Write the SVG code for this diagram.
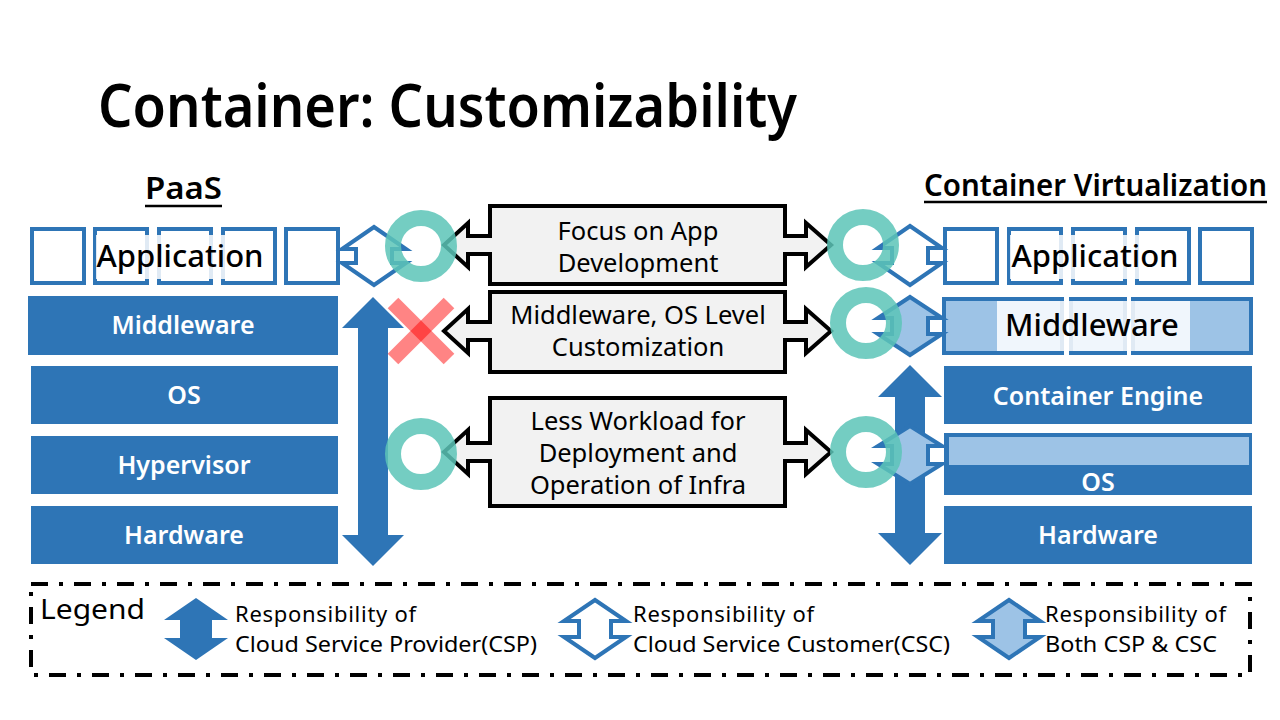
<svg xmlns="http://www.w3.org/2000/svg" width="1280" height="720" viewBox="0 0 1280 720">
<style>
text{font-family:"Noto Sans","Open Sans","DejaVu Sans",sans-serif}
.title{font-size:60px;font-weight:600;fill:#000}
.head{font-size:30px;font-weight:600;fill:#000}
.layer{fill:#2E75B6}
.ltxt{font-size:25px;font-weight:600;fill:#fff;text-anchor:middle}
.btxt{font-size:31px;font-weight:500;fill:#000;text-anchor:middle}
.sq{fill:#fff;stroke:#2E75B6;stroke-width:4}
.lb{fill:#9DC3E6;stroke:#2E75B6;stroke-width:4}
.veil{fill:#fff;opacity:0.85}
.callout{fill:#F2F2F2;stroke:#000;stroke-width:4;stroke-linejoin:miter}
.ctxt{font-size:25.5px;fill:#000;text-anchor:middle}
.csp{fill:#2E75B6}
.csc{fill:#fff;stroke:#2E75B6;stroke-width:4}
.both{fill:#9DC3E6;stroke:#2E75B6;stroke-width:4}
.ring{fill:none;stroke:#5CC4B7;stroke-width:16;opacity:0.85}
.cross{stroke:#FF0000;stroke-width:15;opacity:0.48}
.legtxt{font-size:22px;fill:#000}
</style>

<g id="title"><text class="title" x="98" y="127" textLength="699" lengthAdjust="spacingAndGlyphs">Container: Customizability</text></g>

<g id="paas-heading">
<text class="head" x="145" y="199" textLength="77" lengthAdjust="spacingAndGlyphs">PaaS</text>
<line x1="145" y1="206" x2="222" y2="206" stroke="#000" stroke-width="2.5"/>
</g>
<g id="cv-heading">
<text class="head" x="924" y="196" textLength="343" lengthAdjust="spacingAndGlyphs">Container Virtualization</text>
<line x1="924" y1="202" x2="1267" y2="202" stroke="#000" stroke-width="2.5"/>
</g>

<!-- Left stack -->
<g id="paas-application">
<rect class="sq" x="32" y="229" width="52" height="54"/>
<rect class="sq" x="95" y="229" width="52" height="54"/>
<rect class="sq" x="159" y="229" width="52" height="54"/>
<rect class="sq" x="223" y="229" width="52" height="54"/>
<rect class="sq" x="286" y="229" width="52" height="54"/>
<rect class="veil" x="96" y="235" width="170" height="44"/>
<text class="btxt" x="180" y="267">Application</text>
</g>
<g id="paas-middleware"><rect class="layer" x="28" y="296" width="310" height="59"/><text class="ltxt" x="183" y="334">Middleware</text></g>
<g id="paas-os"><rect class="layer" x="31" y="366" width="307" height="58"/><text class="ltxt" x="184" y="404">OS</text></g>
<g id="paas-hypervisor"><rect class="layer" x="31" y="436" width="307" height="58"/><text class="ltxt" x="184" y="474">Hypervisor</text></g>
<g id="paas-hardware"><rect class="layer" x="31" y="506" width="307" height="58"/><text class="ltxt" x="184" y="544">Hardware</text></g>

<!-- Right stack -->
<g id="cv-application">
<rect class="sq" x="945" y="229" width="52" height="54"/>
<rect class="sq" x="1009" y="229" width="52" height="54"/>
<rect class="sq" x="1073" y="229" width="52" height="54"/>
<rect class="sq" x="1137" y="229" width="52" height="54"/>
<rect class="sq" x="1200" y="229" width="52" height="54"/>
<rect class="veil" x="1010" y="235" width="170" height="44"/>
<text class="btxt" x="1095" y="267">Application</text>
</g>
<g id="cv-middleware">
<rect class="lb" x="944" y="299" width="118" height="54"/>
<rect class="lb" x="1071" y="299" width="54" height="54"/>
<rect class="lb" x="1133" y="299" width="118" height="54"/>
<rect class="veil" x="997" y="301" width="193" height="50"/>
<text class="btxt" x="1092" y="336">Middleware</text>
</g>
<g id="cv-container-engine"><rect class="layer" x="944" y="366" width="308" height="58"/><text class="ltxt" x="1098" y="405">Container Engine</text></g>
<g id="cv-os">
<rect class="layer" x="944" y="433" width="308" height="62"/>
<rect x="949" y="437" width="300" height="28" fill="#9DC3E6"/>
<text class="ltxt" x="1098" y="491">OS</text>
</g>
<g id="cv-hardware"><rect class="layer" x="944" y="506" width="308" height="58"/><text class="ltxt" x="1098" y="544">Hardware</text></g>

<!-- Middle callouts -->
<g id="focus-app">
<path class="callout" d="M490,206 H785 V236 H806 V223 L831,245 L806,267 V254 H785 V284 H490 V254 H468 V267 L444,245 L468,223 V236 H490 Z"/>
<text class="ctxt" x="638" y="240">Focus on App</text>
<text class="ctxt" x="638" y="272">Development</text>
</g>
<g id="mw-os-custom">
<path class="callout" d="M490,292 H785 V322 H806 V309 L831,331 L806,353 V340 H785 V372 H490 V340 H468 V353 L444,331 L468,309 V322 H490 Z"/>
<text class="ctxt" x="638" y="324">Middleware, OS Level</text>
<text class="ctxt" x="638" y="356">Customization</text>
</g>
<g id="less-workload">
<path class="callout" d="M490,398 H785 V443 H806 V430 L831,452 L806,474 V461 H785 V506 H490 V461 H468 V474 L444,452 L468,430 V443 H490 Z"/>
<text class="ctxt" x="638" y="430">Less Workload for</text>
<text class="ctxt" x="638" y="462">Deployment and</text>
<text class="ctxt" x="638" y="494">Operation of Infra</text>
</g>

<!-- Responsibility arrows -->
<g id="connectors">
<path class="csc" d="M374,227 L406,249 H392 V263 H406 L374,285 L342,263 H356 V249 H342 Z"/>
<path class="csp" d="M373,297 L404,328 H388 V535 H404 L373,566 L342,535 H358 V328 H342 Z"/>
<path class="csc" d="M910,226 L942,248 H928 V263 H942 L910,285 L878,263 H892 V248 H878 Z"/>
<path class="both" d="M910,297 L942,318 H928 V334 H942 L910,355 L878,334 H892 V318 H878 Z"/>
<path class="csp" d="M910,365 L942,397 H925 V533 H942 L910,565 L878,533 H895 V397 H878 Z"/>
<path class="both" d="M910,426 L942,446 H928 V464 H942 L910,484 L878,464 H892 V446 H878 Z"/>
</g>

<g id="marks">
<circle class="ring" cx="421" cy="246" r="28"/>
<circle class="ring" cx="421" cy="454" r="28"/>
<circle class="ring" cx="863" cy="245" r="28"/>
<circle class="ring" cx="866" cy="323" r="28"/>
<circle class="ring" cx="866" cy="452" r="28"/>
<line class="cross" x1="393" y1="303" x2="449" y2="359"/>
<line class="cross" x1="449" y1="303" x2="393" y2="359"/>
</g>

<!-- Legend -->
<g id="legend">
<rect x="31" y="584" width="1219" height="91" fill="none" stroke="#000" stroke-width="4" stroke-dasharray="17 11 4 11"/>
<text x="40" y="619" style="font-size:28px;fill:#000" textLength="105" lengthAdjust="spacingAndGlyphs">Legend</text>
<path class="csp" d="M196,598 L228,620 H212 V638 H228 L196,660 L164,638 H180 V620 H164 Z"/>
<text class="legtxt" x="235" y="622" textLength="181">Responsibility of</text>
<text class="legtxt" x="235" y="652" textLength="302" lengthAdjust="spacingAndGlyphs">Cloud Service Provider(CSP)</text>
<path class="csc" d="M595,600 L626,621 H611 V637 H626 L595,658 L564,637 H579 V621 H564 Z"/>
<text class="legtxt" x="633" y="622" textLength="181">Responsibility of</text>
<text class="legtxt" x="633" y="652" textLength="317" lengthAdjust="spacingAndGlyphs">Cloud Service Customer(CSC)</text>
<path class="both" d="M1009,600 L1040,621 H1025 V637 H1040 L1009,658 L978,637 H993 V621 H978 Z"/>
<text class="legtxt" x="1045" y="622" textLength="181">Responsibility of</text>
<text class="legtxt" x="1045" y="652" textLength="172" lengthAdjust="spacingAndGlyphs">Both CSP &amp; CSC</text>
</g>
</svg>
